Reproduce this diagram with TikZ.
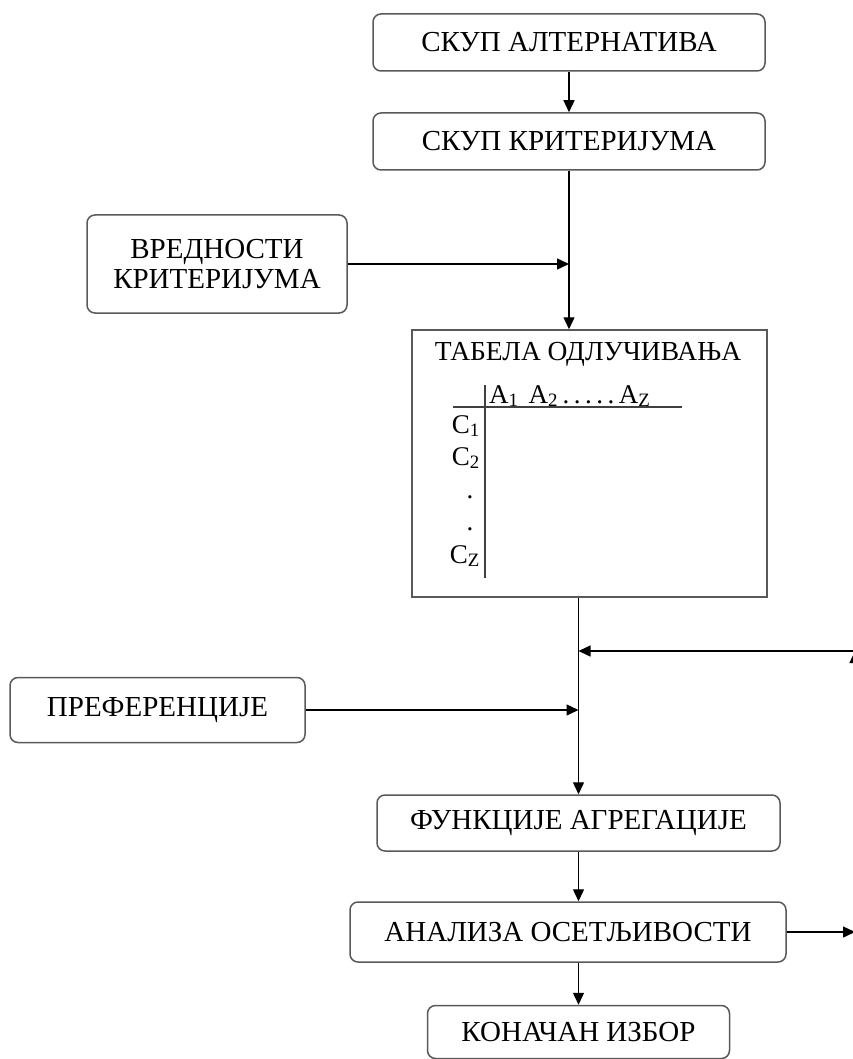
\documentclass[tikz,border=0pt]{standalone}
\usepackage{fontspec}
\setmainfont{Liberation Serif}
\usetikzlibrary{positioning,arrows.meta}

\begin{document}
\begin{tikzpicture}[x=1pt, y=-1pt,
	rbox/.style={shape=rectangle, rounded corners=8pt, draw=black!65, line width=1.5pt, minimum height=57pt, inner sep=0pt, font=\fontsize{29}{30}\selectfont},
	tentry/.style={inner sep=0pt, font=\fontsize{27}{28}\selectfont},
	arr/.style={-{Triangle[width=11pt,length=12pt]}, line width=1.4pt}]
	\useasboundingbox (0,0) rectangle (852,1059);

	\node (alt) at (569,42.5) [rbox, minimum width=392pt] {СКУП АЛТЕРНАТИВА};
	\node (crit) at (569,141.5) [rbox, minimum width=392pt] {СКУП КРИТЕРИЈУМА};
	\node (val) at (217,264) [rbox, minimum width=260pt, minimum height=98pt, align=center] {ВРЕДНОСТИ\\КРИТЕРИЈУМА};

	% decision table
	\node (tab) at (589.5,463.5) [shape=rectangle, draw=black!65, line width=1.5pt, minimum width=355pt, minimum height=267pt] {};
	\node (tabtitle) at (588,354) [tentry, font=\fontsize{27.5}{28}\selectfont] {ТАБЕЛА ОДЛУЧИВАЊА};
	\node (ahead) [tentry, anchor=base west] at (489,403) {A\textsubscript{1}\hspace{10pt}A\textsubscript{2}\,.\,.\,.\,.\,.\,A\textsubscript{Z}};
	\node (c1) [tentry, anchor=base east] at (480,433) {C\textsubscript{1}};
	\node (c2) [tentry, anchor=base east] at (480,465) {C\textsubscript{2}};
	\node (cdot1) [tentry, anchor=base] at (470,498) {.};
	\node (cdot2) [tentry, anchor=base] at (470,530) {.};
	\node (cz) [tentry, anchor=base east] at (480,563) {C\textsubscript{Z}};
	\draw [line width=1.4pt, black!75] (453,407) -- (682,407);
	\draw [line width=1.4pt, black!75] (485,385) -- (485,578);

	\node (pref) at (157.5,710) [rbox, minimum width=295pt, minimum height=65pt] {ПРЕФЕРЕНЦИЈЕ};
	\node (funk) at (578.5,823) [rbox, minimum width=403pt, minimum height=56pt] {ФУНКЦИЈЕ АГРЕГАЦИЈЕ};
	\node (anal) at (568,932) [rbox, minimum width=436pt, minimum height=60pt] {АНАЛИЗА ОСЕТЉИВОСТИ};
	\node (kon) at (578.5,1032) [rbox, minimum width=302pt, minimum height=53pt] {КОНАЧАН ИЗБОР};

	\coordinate (fbR) at (855,932);
	\coordinate (fbT) at (855,651);

	\draw [arr] (alt) -- (crit);
	\draw [arr] (crit.south) -- (crit.south |- tab.north);
	\draw [arr] (val.east) -- (val.east -| crit.south);
	\draw [arr] (tab.south -| funk.north) -- (funk.north);
	\draw [arr] (pref.east) -- (pref.east -| funk.north);
	\draw [arr] (fbT) -- (fbT -| funk.north);
	\draw [arr] (funk.south) -- (funk.south |- anal.north);
	\draw [arr] (anal.south -| kon.north) -- (kon.north);
	\draw [arr] (anal.east) -- (fbR);
	\draw [arr] (fbR) -- (fbT);
\end{tikzpicture}
\end{document}
